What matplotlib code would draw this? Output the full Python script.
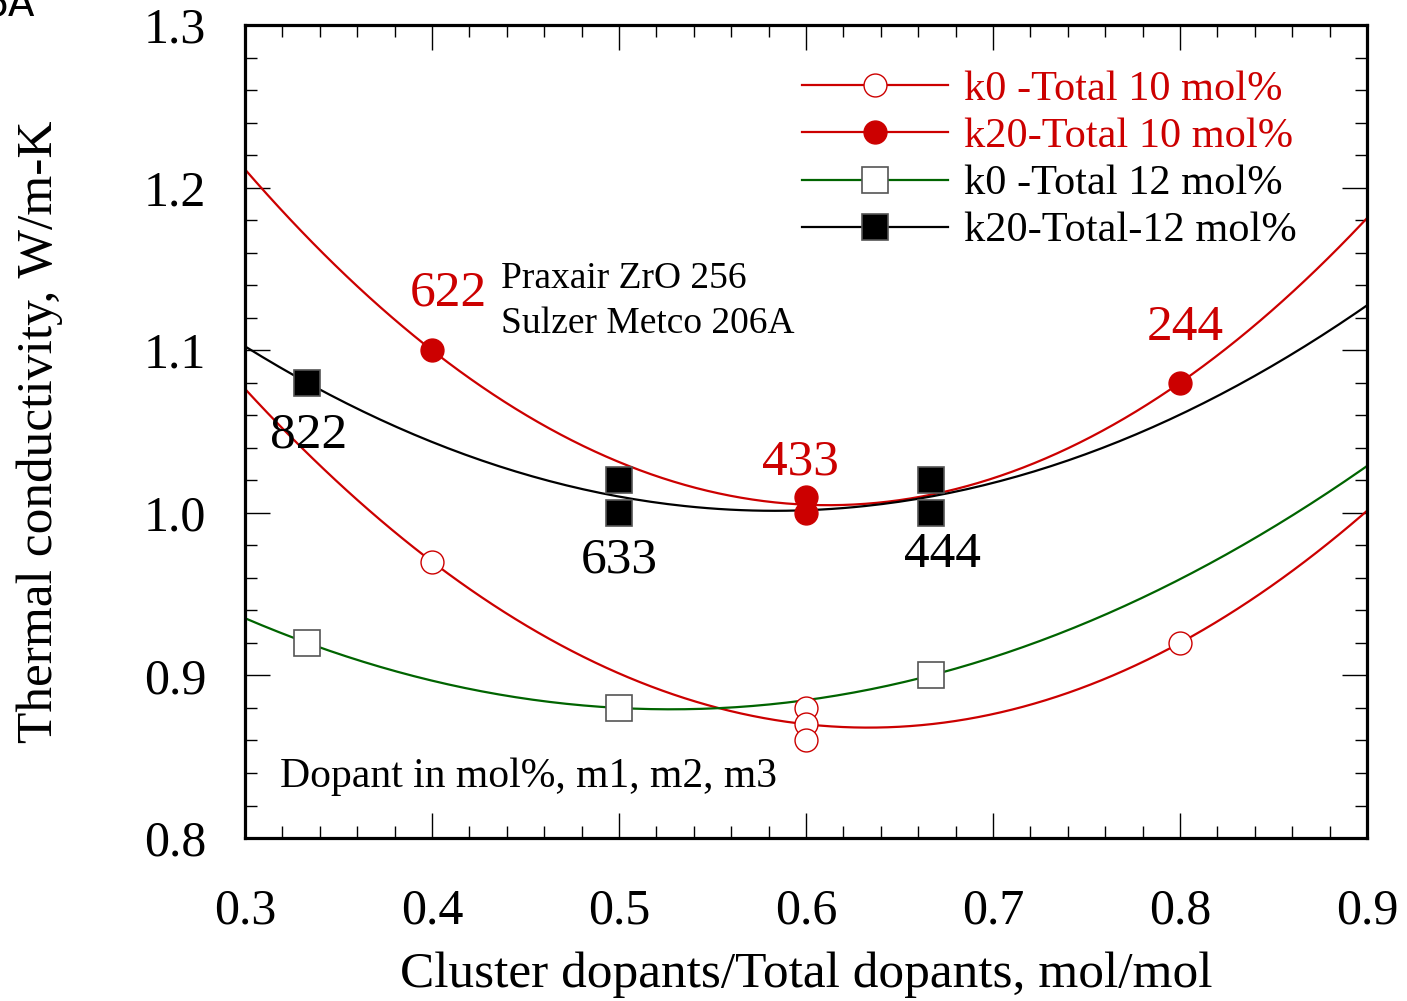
import numpy as np
import matplotlib.pyplot as plt
from matplotlib.ticker import MultipleLocator

plt.rcParams['font.family'] = ['Liberation Serif', 'DejaVu Serif']

# data
x_k0_10 = [0.4, 0.6, 0.6, 0.6, 0.8]
y_k0_10 = [0.97, 0.88, 0.87, 0.86, 0.92]
x_k20_10 = [0.4, 0.6, 0.6, 0.8]
y_k20_10 = [1.10, 1.01, 1.00, 1.08]
x_k0_12 = [1/3, 0.5, 2/3]
y_k0_12 = [0.92, 0.88, 0.90]
x_k20_12 = [1/3, 0.5, 0.5, 2/3, 2/3]
y_k20_12 = [1.08, 1.02, 1.00, 1.02, 1.00]

red = '#cc0000'
green = '#006400'

fig = plt.figure(figsize=(14.07, 10.01), dpi=100)
ax = fig.add_axes([0.1741, 0.1628, 0.7975, 0.8122])

xx = np.linspace(0.3, 0.9, 200)

def trend(x, y):
    # 2nd order fit through the points, as in the original chart
    return np.polyval(np.polyfit(x, y, 2), xx)

ax.plot(xx, trend(x_k0_10, y_k0_10), color=red, lw=1.6)
ax.plot(xx, trend(x_k20_10, y_k20_10), color=red, lw=1.6)
ax.plot(xx, trend(x_k0_12, y_k0_12), color=green, lw=1.6)
ax.plot(xx, trend(x_k20_12, y_k20_12), color='black', lw=1.6)

ax.plot(x_k0_10, y_k0_10, 'o', ms=16.5, mfc='white', mec=red, mew=1)
ax.plot(x_k20_10, y_k20_10, 'o', ms=16.5, mfc=red, mec=red, mew=1)
ax.plot(x_k0_12, y_k0_12, 's', ms=19, mfc='white', mec='#555555', mew=1.2)
ax.plot(x_k20_12, y_k20_12, 's', ms=19, mfc='black', mec='#555555', mew=1.2)

# legend entries
h1, = ax.plot([], [], '-o', color=red, lw=1.6, ms=16.5, mfc='white', mec=red, mew=1)
h2, = ax.plot([], [], '-o', color=red, lw=1.6, ms=16.5, mfc=red, mec=red)
h3, = ax.plot([], [], '-s', color=green, lw=1.6, ms=19, mfc='white', mec='#555555', mew=1.2)
h4, = ax.plot([], [], '-s', color='black', lw=1.6, ms=19, mfc='black', mec='#555555', mew=1.2)
leg = ax.legend([h1, h2, h3, h4],
                ['k0 -Total 10 mol%', 'k20-Total 10 mol%', 'k0 -Total 12 mol%', 'k20-Total-12 mol%'],
                loc='upper left', bbox_to_anchor=(0.481, 0.965), frameon=False,
                fontsize=30.5, handlelength=3.45, handletextpad=0.38, labelspacing=0.2,
                borderaxespad=0, labelcolor=[red, red, 'black', 'black'])

# point labels
ax.text(0.409, 1.135, '622', color=red, fontsize=37, ha='center', va='center')
ax.text(0.803, 1.114, '244', color=red, fontsize=37, ha='center', va='center')
ax.text(0.597, 1.031, '433', color=red, fontsize=37, ha='center', va='center')
ax.text(0.334, 1.048, '822', fontsize=37, ha='center', va='center')
ax.text(0.500, 0.971, '633', fontsize=37, ha='center', va='center')
ax.text(0.673, 0.974, '444', fontsize=37, ha='center', va='center')
ax.text(0.437, 1.144, 'Praxair ZrO 256', fontsize=27, va='center')
ax.text(0.437, 1.116, 'Sulzer Metco 206A', fontsize=27, va='center')
ax.text(0.319, 0.8375, 'Dopant in mol%, m1, m2, m3', fontsize=30, va='center')

ax.set_xlim(0.3, 0.9)
ax.set_ylim(0.8, 1.3)
ax.xaxis.set_major_locator(MultipleLocator(0.1))
ax.xaxis.set_minor_locator(MultipleLocator(0.02))
ax.yaxis.set_major_locator(MultipleLocator(0.1))
ax.yaxis.set_minor_locator(MultipleLocator(0.02))
ax.xaxis.set_major_formatter(plt.FormatStrFormatter('%.1f'))
ax.yaxis.set_major_formatter(plt.FormatStrFormatter('%.1f'))
ax.tick_params(which='both', direction='in', top=True, right=True, labelsize=36)
ax.tick_params(axis='x', pad=36)
ax.tick_params(axis='y', pad=28)
ax.tick_params(which='major', length=18, width=1)
ax.tick_params(which='minor', length=8.6, width=1)
for s in ax.spines.values():
    s.set_linewidth(2.3)

ax.set_xlabel('Cluster dopants/Total dopants, mol/mol', fontsize=37, labelpad=12)
ax.set_ylabel('Thermal conductivity, W/m-K', fontsize=37, labelpad=58)

fig.text(-0.012, 0.995, '6A', fontsize=28, family='DejaVu Sans', va='center', ha='left')

fig.savefig('out.png', dpi=100)
